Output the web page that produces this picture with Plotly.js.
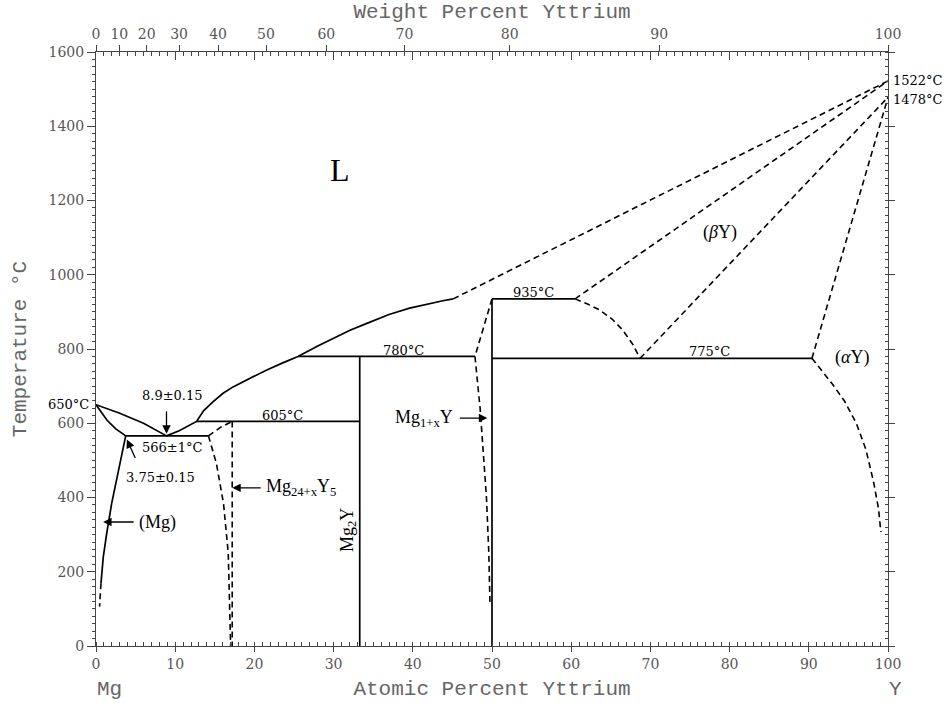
<!DOCTYPE html>
<html>
<head>
<meta charset="utf-8">
<script src="https://cdn.plot.ly/plotly-3.0.1.min.js"></script>
<style>html,body{margin:0;padding:0;background:#fff}</style>
</head>
<body>
<div id="chart" style="width:952px;height:708px"></div>
<script>
// Mg–Y phase diagram: composition in atomic percent Y, temperature in °C.

// Liquidus, Mg side (650 °C melting point down to the 566 °C eutectic at 8.9 at.%)
const liqMgX = [0, 3, 6, 8.9];
const liqMgT = [650, 627, 600, 566];
// Solidus of (Mg)
const solMgX = [0, 0.7, 1.4, 2.5, 3.75];
const solMgT = [650, 628, 608, 585, 566];
// Solvus of (Mg): measured part and extrapolated part
const solvMgX = [3.75, 3.24, 2.61, 1.98, 1.35, 0.92, 0.63];
const solvMgT = [566, 514, 447, 384, 303, 240, 169];
const solvMgDashX = [0.63, 0.45];
const solvMgDashT = [169, 106];
// Liquidus from the eutectic up to the 935 °C region
const liqMidX = [8.9, 10.5, 12.7, 13.6, 14.8, 16.0, 17.3, 19.5, 21.5, 23.5, 25.5, 28, 30, 32, 34.2, 37, 39.6, 42, 43.8, 45.1];
const liqMidT = [566, 580, 605, 634, 658, 680, 698, 722, 743, 762, 780, 808, 829, 850, 869, 893, 910, 922, 930, 935];
// Estimated liquidus up to the melting point of Y
const liqYX = [45.1, 100];
const liqYT = [935, 1522];
// (βY) solidus
const solBetaX = [60.5, 100];
const solBetaT = [935, 1522];
// (βY)/(αY) boundaries
const betaLowX = [60.5, 62, 63.6, 65.2, 66.5, 67.7, 68.7];
const betaLowT = [935, 922, 905, 880, 851, 815, 775];
const betaTransX = [68.7, 100];
const betaTransT = [775, 1478];
const alphaUpX = [90.4, 100];
const alphaUpT = [775, 1478];
const alphaSolvX = [90.4, 91.5, 93.0, 94.5, 96.0, 97.2, 98.2, 98.8, 99.1];
const alphaSolvT = [775, 745, 705, 660, 600, 530, 440, 370, 307];
// Mg24+xY5 phase field
const mg24TopX = [14.2, 15.8, 17.2];
const mg24TopT = [566, 590, 605];
const mg24LeftX = [14.2, 14.7, 15.2, 16.1, 16.7, 17.0];
const mg24LeftT = [566, 530, 492, 384, 250, 0];
const mg24RightX = [17.2, 17.2];
const mg24RightT = [605, 0];
// Mg1+xY phase field, Mg-rich boundary
const mgYLeftX = [50, 47.85, 48.5, 48.9, 49.3, 49.6, 49.75];
const mgYLeftT = [935, 780, 640, 528, 400, 250, 110];
// Line compounds
const mg2YX = [33.3, 33.3];
const mg2YT = [780, 0];
const mgYX = [50, 50];
const mgYT = [935, 0];
// Invariant reactions
const eutecticX = [3.75, 14.2];   const eutecticT = [566, 566];
const peri605X = [12.7, 33.3];    const peri605T = [605, 605];
const peri780X = [25.5, 47.85];   const peri780T = [780, 780];
const peri935X = [50, 60.5];      const peri935T = [935, 935];
const eutd775X = [50, 90.4];      const eutd775T = [775, 775];

// Weight-percent ticks for the top axis
const weightTicks = [0, 10, 20, 30, 40, 50, 60, 70, 80, 90, 100];
const MG_MASS = 24.305, Y_MASS = 88.906;
function wtToAt(w) {
  if (w >= 100) return 100;
  const nY = w / Y_MASS, nMg = (100 - w) / MG_MASS;
  return 100 * nY / (nY + nMg);
}

const solid = { color: '#000', width: 1.7 };
const dashed = { color: '#000', width: 1.6, dash: '6px,4px' };
function tr(x, y, line) {
  return { x: x, y: y, mode: 'lines', line: line, hoverinfo: 'skip', showlegend: false, xaxis: 'x', yaxis: 'y' };
}

const traces = [
  tr(liqMgX, liqMgT, solid),
  tr(solMgX, solMgT, solid),
  tr(solvMgX, solvMgT, solid),
  tr(solvMgDashX, solvMgDashT, dashed),
  tr(liqMidX, liqMidT, solid),
  tr(liqYX, liqYT, dashed),
  tr(solBetaX, solBetaT, dashed),
  tr(betaLowX, betaLowT, dashed),
  tr(betaTransX, betaTransT, dashed),
  tr(alphaUpX, alphaUpT, dashed),
  tr(alphaSolvX, alphaSolvT, dashed),
  tr(mg24TopX, mg24TopT, dashed),
  tr(mg24LeftX, mg24LeftT, dashed),
  tr(mg24RightX, mg24RightT, dashed),
  tr(mgYLeftX, mgYLeftT, dashed),
  tr(mg2YX, mg2YT, solid),
  tr(mgYX, mgYT, solid),
  tr(eutecticX, eutecticT, solid),
  tr(peri605X, peri605T, solid),
  tr(peri780X, peri780T, solid),
  tr(peri935X, peri935T, solid),
  tr(eutd775X, eutd775T, solid),
  // carriers for the top and right axes
  { x: [null], y: [null], xaxis: 'x2', yaxis: 'y', mode: 'lines', showlegend: false, hoverinfo: 'skip' },
  { x: [null], y: [null], xaxis: 'x3', yaxis: 'y', mode: 'lines', showlegend: false, hoverinfo: 'skip' },
  { x: [null], y: [null], xaxis: 'x', yaxis: 'y2', mode: 'lines', showlegend: false, hoverinfo: 'skip' }
];

const axisColor = '#444';
const tickFont = { family: 'DejaVu Serif', size: 14, color: '#555' };
const titleFont = { family: 'Liberation Mono', size: 21, color: '#666' };
const labelFont = { family: 'DejaVu Serif', size: 13, color: '#000' };
const phaseFont = { family: 'Liberation Serif', size: 18, color: '#000' };

function note(x, y, text, font, extra) {
  return Object.assign({ x: x, y: y, xref: 'x', yref: 'y', text: text, showarrow: false, font: font }, extra || {});
}
function arrow(x, y, ax, ay) {
  return { x: x, y: y, xref: 'x', yref: 'y', ax: ax, ay: ay, text: '', showarrow: true,
           arrowhead: 2, arrowsize: 1.3, arrowwidth: 1.3, arrowcolor: '#000', standoff: 0 };
}

const annotations = [
  note(30.8, 1282, 'L', { family: 'Liberation Serif', size: 32, color: '#000' }),
  note(78.8, 1115, '(<i>β</i>Y)', phaseFont),
  note(95.5, 778, '(<i>α</i>Y)', phaseFont),
  note(55.2, 953, '935°C', labelFont),
  note(38.8, 797, '780°C', labelFont),
  note(77.5, 792, '775°C', labelFont),
  note(23.6, 622, '605°C', labelFont),
  note(9.6, 536, '566±1°C', labelFont),
  note(9.6, 676, '8.9±0.15', labelFont),
  note(8.2, 455, '3.75±0.15', labelFont),
  note(5.2, 334, '(Mg)', phaseFont, { xanchor: 'left' }),
  note(21.2, 426, 'Mg<sub>24+x</sub>Y<sub>5</sub>', phaseFont, { xanchor: 'left' }),
  note(31.8, 312, 'Mg<sub>2</sub>Y', phaseFont, { textangle: -90 }),
  note(45.3, 614, 'Mg<sub>1+x</sub>Y', phaseFont, { xanchor: 'right' }),
  note(0, 650, '650°C', labelFont, { xanchor: 'right', xshift: -5 }),
  note(100, 1522, '1522°C', labelFont, { xanchor: 'left', xshift: 3 }),
  note(100, 1478, '1478°C', labelFont, { xanchor: 'left', xshift: 3, yshift: -2 }),
  { x: 0, y: -0.074, xref: 'x', yref: 'paper', text: 'Mg', showarrow: false, xanchor: 'left', yanchor: 'middle',
    xshift: -1, font: { family: 'Liberation Mono', size: 21, color: '#666' } },
  { x: 100, y: -0.074, xref: 'x', yref: 'paper', text: 'Y', showarrow: false, xanchor: 'center', yanchor: 'middle',
    xshift: 7, font: { family: 'Liberation Mono', size: 21, color: '#666' } },
  arrow(8.9, 572, 0, -24),
  arrow(3.9, 556, 9, 20),
  arrow(0.9, 334, 32, 0),
  arrow(17.2, 426, 30, 0),
  arrow(49.4, 614, -29, 0)
];

const layout = {
  width: 952, height: 708,
  margin: { l: 96, r: 64, t: 52, b: 62 },
  paper_bgcolor: '#fff', plot_bgcolor: '#fff',
  showlegend: false,
  xaxis: {
    range: [0, 100], tickmode: 'linear', tick0: 0, dtick: 10,
    ticks: 'outside', ticklen: 5, tickcolor: axisColor, tickwidth: 1,
    minor: { dtick: 1, ticks: 'inside', ticklen: 4, tickcolor: axisColor, showgrid: false },
    showline: true, linecolor: axisColor, linewidth: 1, showgrid: false, zeroline: false,
    tickfont: tickFont,
    title: { text: 'Atomic Percent Yttrium', font: titleFont, standoff: 9 },
    automargin: false
  },
  xaxis2: {
    overlaying: 'x', side: 'top', range: [0, 100], tickmode: 'linear', tick0: 0, dtick: 10,
    ticks: 'inside', ticklen: 8, tickcolor: axisColor, showticklabels: false,
    minor: { dtick: 1, ticks: 'inside', ticklen: 4, tickcolor: axisColor, showgrid: false },
    showline: true, linecolor: axisColor, showgrid: false, zeroline: false
  },
  xaxis3: {
    overlaying: 'x', side: 'top', range: [0, 100], tickmode: 'array',
    tickvals: weightTicks.map(wtToAt), ticktext: weightTicks.map(String),
    ticks: 'outside', ticklen: 6, tickcolor: axisColor, tickfont: tickFont,
    showline: false, showgrid: false, zeroline: false,
    title: { text: 'Weight Percent Yttrium', font: titleFont, standoff: 2 },
    automargin: false
  },
  yaxis: {
    range: [0, 1600], tickmode: 'linear', tick0: 0, dtick: 200,
    ticks: 'outside', ticklen: 8, tickcolor: axisColor,
    minor: { dtick: 20, ticks: 'outside', ticklen: 3, tickcolor: axisColor, showgrid: false },
    showline: true, linecolor: axisColor, showgrid: false, zeroline: false,
    tickfont: tickFont,
    title: { text: 'Temperature °C', font: titleFont, standoff: 16 },
    automargin: false
  },
  yaxis2: {
    overlaying: 'y', side: 'right', range: [0, 1600], tickmode: 'linear', tick0: 0, dtick: 200,
    ticks: 'outside', ticklen: 6, tickcolor: axisColor, showticklabels: false,
    minor: { dtick: 20, ticks: 'inside', ticklen: 3, tickcolor: axisColor, showgrid: false },
    showline: true, linecolor: axisColor, showgrid: false, zeroline: false
  },
  annotations: annotations
};

Plotly.newPlot('chart', traces, layout, { staticPlot: true, displayModeBar: false });
</script>
</body>
</html>
